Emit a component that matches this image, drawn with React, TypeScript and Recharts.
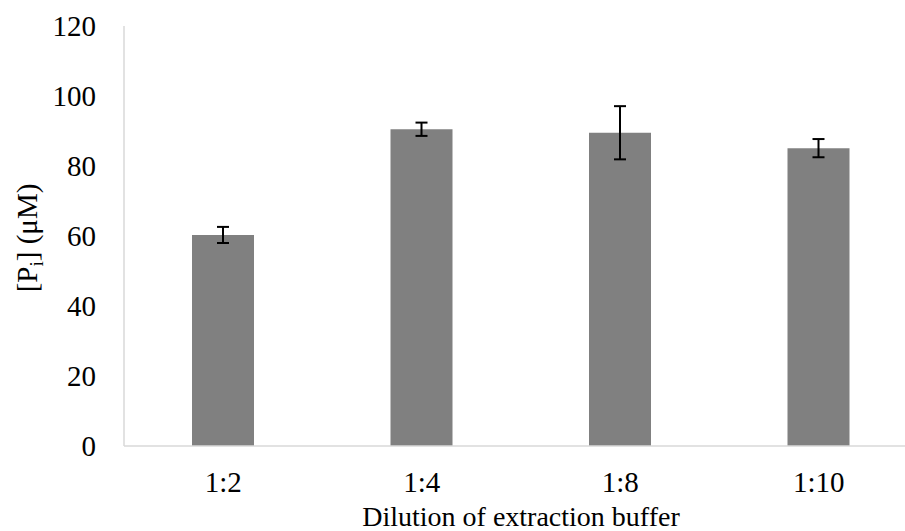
import { BarChart, Bar, XAxis, YAxis, ErrorBar, Label } from 'recharts';

const dilutions = ['1:2', '1:4', '1:8', '1:10'];
const piValues = [60.3, 90.5, 89.5, 85.1];
const piErrors = [2.3, 1.9, 7.6, 2.6];
const yTicks = [0, 20, 40, 60, 80, 100, 120];

const FONT = '"Liberation Serif", "DejaVu Serif", Tinos, "Times New Roman", serif';

export default function App() {
  const data = dilutions.map((d, i) => ({ name: d, pi: piValues[i], err: piErrors[i] }));

  return (
    <div style={{ width: 905, height: 531, overflow: 'hidden', background: '#fff', fontFamily: FONT }}>
      <style>{`body{margin:0} svg text{font-family:${FONT}}`}</style>
      <BarChart
        width={920}
        height={531}
        data={data}
        margin={{ top: 26, right: 2, bottom: 0, left: 0 }}
        barCategoryGap={0}
      >
        <XAxis
          dataKey="name"
          height={85}
          axisLine={{ stroke: '#d9d9d9', strokeWidth: 1.5 }}
          tickLine={false}
          tickSize={0}
          tickMargin={25}
          tick={{ fill: '#000', fontSize: 29, fontFamily: FONT }}
        >
          <Label
            value="Dilution of extraction buffer"
            position="insideBottom"
            offset={5}
            style={{ fill: '#000', fontSize: 28, fontFamily: FONT }}
          />
        </XAxis>
        <YAxis
          width={124}
          domain={[0, 120]}
          ticks={yTicks}
          axisLine={{ stroke: '#d9d9d9', strokeWidth: 1.5 }}
          tickLine={false}
          tickSize={0}
          tickMargin={28}
          tick={{ fill: '#000', fontSize: 29, fontFamily: FONT }}
        >
          <Label
            content={() => (
              <text
                transform="rotate(-90)"
                x={-238}
                y={37}
                textAnchor="middle"
                fill="#000"
                fontSize={29}
                fontFamily={FONT}
              >
                [P<tspan fontSize={19} dy={6}>i</tspan>
                <tspan dy={-6}>] (μM)</tspan>
              </text>
            )}
          />
        </YAxis>
        <Bar dataKey="pi" fill="#808080" barSize={62} isAnimationActive={false}>
          <ErrorBar dataKey="err" width={6} stroke="#000" strokeWidth={2} isAnimationActive={false} />
        </Bar>
      </BarChart>
    </div>
  );
}
